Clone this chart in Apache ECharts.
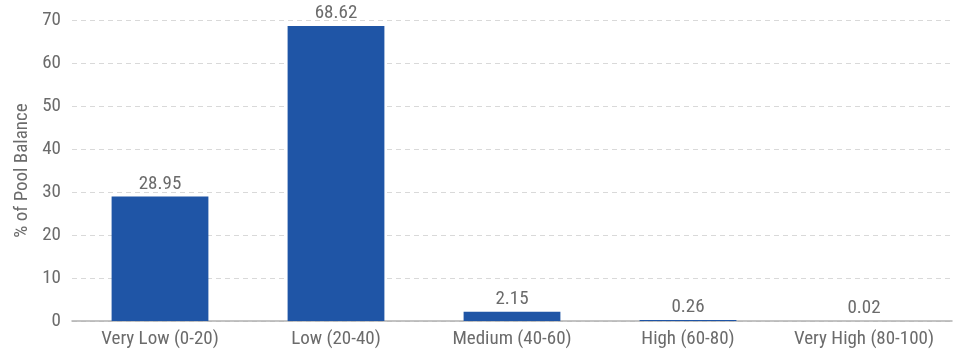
<!DOCTYPE html>
<html>
<head>
<meta charset="utf-8">
<script src="https://cdn.jsdelivr.net/npm/echarts@6/dist/echarts.min.js"></script>
<style>
html,body{margin:0;padding:0;background:#fff;}
#chart{width:965px;height:358px;}
</style>
</head>
<body>
<div id="chart"></div>
<script>
// Pool balance distribution by score band
const categories = ['Very Low (0-20)', 'Low (20-40)', 'Medium (40-60)', 'High (60-80)', 'Very High (80-100)'];
const poolBalance = [28.95, 68.62, 2.15, 0.26, 0.02];
const yTicks = { min: 0, max: 70, interval: 10 };

const FONT = '"Roboto Condensed", "Liberation Sans Narrow", "Roboto", sans-serif';
const TEXT = '#6b6b6b';
const SIZE = 19;

const chart = echarts.init(document.getElementById('chart'));
chart.setOption({
  animation: false,
  grid: { left: 72, right: 13, top: 20, bottom: 37 },
  xAxis: {
    type: 'category',
    data: categories,
    axisTick: { show: false },
    axisLine: { lineStyle: { color: '#b0b0b0', width: 1.5 } },
    axisLabel: { interval: 0, color: TEXT, fontFamily: FONT, fontSize: SIZE, margin: 9 }
  },
  yAxis: {
    type: 'value',
    min: yTicks.min, max: yTicks.max, interval: yTicks.interval,
    name: '% of Pool Balance',
    nameLocation: 'middle',
    nameGap: 38,
    nameTextStyle: { color: TEXT, fontFamily: FONT, fontSize: SIZE },
    axisLine: { show: false },
    axisTick: { show: false },
    axisLabel: { color: TEXT, fontFamily: FONT, fontSize: SIZE, margin: 11 },
    splitLine: { lineStyle: { color: '#d9d9d9', type: [5, 4], width: 1 } }
  },
  series: [{
    type: 'bar',
    data: poolBalance,
    barWidth: '55%',
    itemStyle: { color: '#1f55a6' },
    label: {
      show: true,
      position: 'top',
      distance: 3,
      color: TEXT,
      fontFamily: FONT,
      fontSize: SIZE,
      formatter: p => p.value.toFixed(2)
    }
  }]
});
</script>
</body>
</html>
